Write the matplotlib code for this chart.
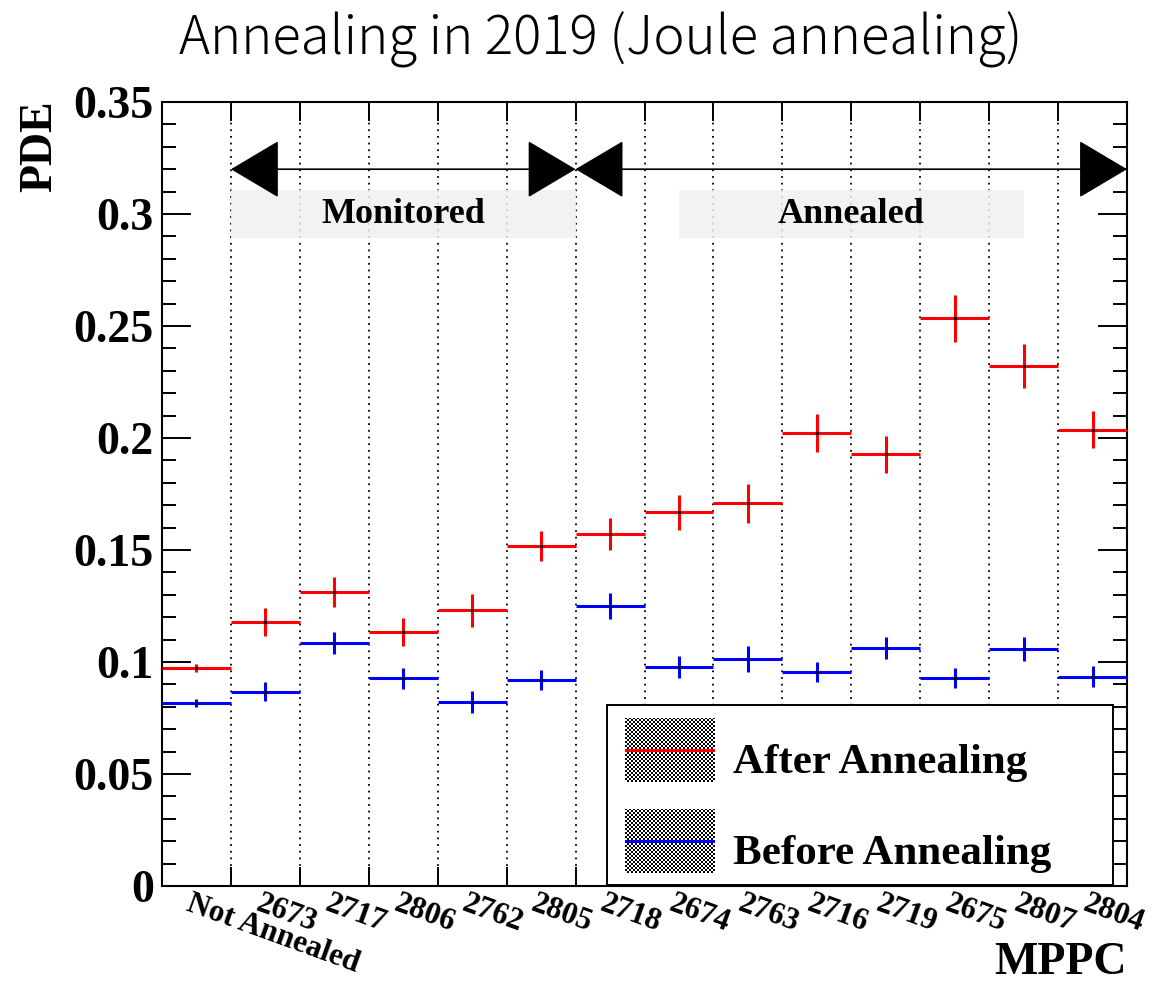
import numpy as np
import matplotlib
matplotlib.use("Agg")
import matplotlib.pyplot as plt
from matplotlib.patches import Rectangle, FancyArrowPatch
from matplotlib.ticker import MultipleLocator, FixedLocator
import matplotlib.transforms as mtransforms

# MPPC channels and measured photon detection efficiency
mppc_labels = ["Not Annealed", "2673", "2717", "2806", "2762", "2805", "2718",
               "2674", "2763", "2716", "2719", "2675", "2807", "2804"]
pde_after = [0.0973, 0.1179, 0.1311, 0.1135, 0.1231, 0.1517, 0.1570,
             0.1668, 0.1708, 0.2022, 0.1927, 0.2534, 0.2321, 0.2037]
pde_after_err = [0.0019, 0.0062, 0.0067, 0.0063, 0.0073, 0.0068, 0.0071,
                 0.0077, 0.0086, 0.0085, 0.0083, 0.0106, 0.0100, 0.0082]
pde_before = [0.0815, 0.0868, 0.1086, 0.0927, 0.0821, 0.0920, 0.1250,
              0.0976, 0.1013, 0.0954, 0.1063, 0.0927, 0.1059, 0.0934]
pde_before_err = [0.0018, 0.0044, 0.0050, 0.0046, 0.0049, 0.0046, 0.0057,
                  0.0049, 0.0058, 0.0045, 0.0050, 0.0045, 0.0053, 0.0046]
ytick_labels = ["0", "0.05", "0.1", "0.15", "0.2", "0.25", "0.3", "0.35"]

SERIF = "Liberation Serif"
W, H = 1154, 985
fig = plt.figure(figsize=(W / 100, H / 100), dpi=100)
ax = fig.add_axes([162 / W, 1 - 886 / H, (1127 - 162) / W, (886 - 102) / H])

n = len(mppc_labels)
centers = np.arange(n) + 0.5

# dotted separators at every bin edge
ax.set_xlim(0, n)
ax.set_ylim(0, 0.35)
ax.xaxis.set_major_locator(FixedLocator(np.arange(0, n + 1)))
ax.set_xticklabels([])
ax.grid(axis="x", which="major", color="k", lw=1.3, ls=(0, (1, 2.7)), zorder=1)

# histogram-style points: bin-width horizontal bars with vertical errors
ax.errorbar(centers, pde_after, xerr=0.5, yerr=pde_after_err, fmt="none",
            ecolor="#ff0000", elinewidth=2.2, capsize=0, zorder=4)
ax.errorbar(centers, pde_before, xerr=0.5, yerr=pde_before_err, fmt="none",
            ecolor="#0000ff", elinewidth=2.2, capsize=0, zorder=4)
ax.plot(centers, pde_after, "s", color="k", ms=1.2, zorder=5)
ax.plot(centers, pde_before, "s", color="k", ms=1.2, zorder=5)

# y axis
ax.yaxis.set_minor_locator(MultipleLocator(0.01))
ax.set_yticks(np.arange(0, 0.351, 0.05))
ax.set_yticklabels(ytick_labels, fontfamily=SERIF, fontweight="bold", fontsize=33)
ax.tick_params(axis="y", which="major", direction="in", length=21, width=1.4,
               left=True, right=True, pad=6)
ax.tick_params(axis="y", which="minor", direction="in", length=10, width=1.4,
               left=True, right=True)
ax.tick_params(axis="x", which="major", direction="in", length=14, width=1.4,
               bottom=True, top=True)
for sp in ax.spines.values():
    sp.set_linewidth(1.5)

# rotated MPPC labels under each bin
lab_tr = mtransforms.blended_transform_factory(ax.transData, ax.transAxes)
for c, lab in zip(centers, mppc_labels):
    ax.text(c - 0.05, -0.004, lab, transform=lab_tr, rotation=-20,
            rotation_mode="anchor", ha="left", va="top", fontfamily=SERIF,
            fontweight="bold", fontsize=22.5, clip_on=False)

# group arrows and captions
arrow_y = 0.32
for x0, x1 in [(1, 6), (6, 14)]:
    ax.add_patch(FancyArrowPatch((x0, arrow_y), (x1, arrow_y),
                                 arrowstyle="<|-|>,head_length=32,head_width=19",
                                 mutation_scale=1, shrinkA=0, shrinkB=0,
                                 color="k", lw=1.2, zorder=6, clip_on=False))
for x0, x1, txt in [(1, 6, "Monitored"), (7.5, 12.5, "Annealed")]:
    ax.add_patch(Rectangle((x0, 0.2895), x1 - x0, 0.021, facecolor="#f0f0f0",
                           edgecolor="none", alpha=0.85, zorder=2))
    ax.text((x0 + x1) / 2, 0.300, txt, ha="center", va="center",
            fontfamily=SERIF, fontweight="bold", fontsize=26, zorder=3)

# legend box with checkered swatches
ax.add_patch(Rectangle((0.461, 0.0015), 0.5245, 0.2295, transform=ax.transAxes,
                       facecolor="white", edgecolor="k", lw=1.4, zorder=7))
checker = np.indices((32, 45)).sum(axis=0) % 2
for top_px, color, txt in [(718, "#ff0000", "After Annealing"),
                           (809, "#0000ff", "Before Annealing")]:
    sw = fig.add_axes([625 / W, 1 - (top_px + 64) / H, 90 / W, 64 / H], zorder=8)
    sw.imshow(checker, cmap="gray", interpolation="nearest", aspect="auto",
              extent=(0, 1, 0, 1), vmin=0, vmax=1)
    sw.plot([0, 1], [0.5, 0.5], color=color, lw=2.2)
    sw.set_xlim(0, 1)
    sw.set_ylim(0, 1)
    sw.axis("off")
    fig.text(733 / W, 1 - (top_px + 55) / H, txt, ha="left", va="baseline",
             fontfamily=SERIF, fontweight="bold", fontsize=31, zorder=9)

# titles
fig.text(601 / W, 1 - 12 / H, "Annealing in 2019 (Joule annealing)",
         ha="center", va="top", fontfamily="Noto Sans CJK JP",
         fontweight="light", fontsize=38)
fig.text(40 / W, 1 - 100 / H, "PDE", rotation=90, ha="center", va="top",
         fontfamily=SERIF, fontweight="bold", fontsize=33)
fig.text(1127 / W, 1 - 984 / H, "MPPC", ha="right", va="bottom",
         fontfamily=SERIF, fontweight="bold", fontsize=33)

fig.savefig("out.png", dpi=100)
